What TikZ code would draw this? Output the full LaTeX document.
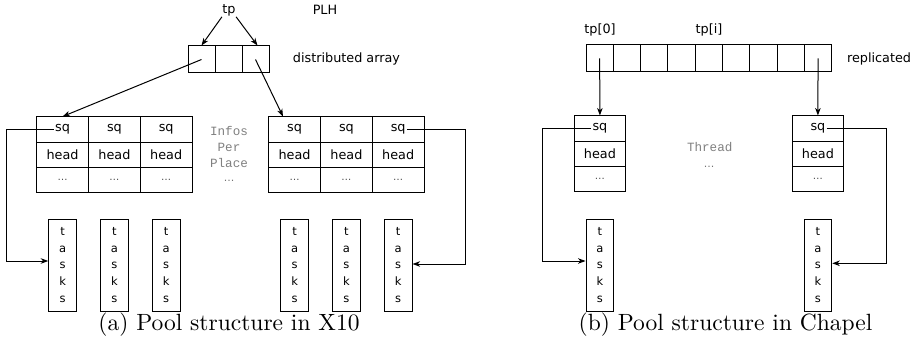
\documentclass[tikz,border=0pt]{standalone}
\usepackage{fontspec}
\newfontfamily\dvsans{DejaVu Sans}
\newfontfamily\monofam{Liberation Mono}
\newfontfamily\capfont{lmroman10-regular.otf}
\usetikzlibrary{arrows.meta}
\begin{document}
\begin{tikzpicture}[x=1pt,y=-1pt,line width=1pt,
  >={Stealth[length=7.5pt,width=5.5pt,inset=2.2pt]},
  lbl/.style={inner sep=0pt,font=\dvsans\fontsize{12.8}{15}\selectfont},
  cell/.style={draw,inner sep=0pt,minimum width=51.8pt,minimum height=25.2pt,
    font=\dvsans\fontsize{12.8}{15}\selectfont},
  dotsfill/.style={cell,font=\dvsans\fontsize{10}{12}\selectfont,text=black!70},
  txt/.style={inner sep=0.8pt,font=\dvsans\fontsize{12.8}{15}\selectfont},
  acell/.style={draw,inner sep=0pt,minimum width=27pt,minimum height=27pt},
  taskbox/.style={draw,inner sep=0pt,minimum width=27.7pt,minimum height=92pt,
    align=center,font=\dvsans\fontsize{11.5}{16.7}\selectfont},
  mono/.style={inner sep=0pt,align=center,text=black!50,
    font=\monofam\fontsize{12.6}{16.3}\selectfont},
  monodots/.style={inner sep=0pt,text=black!55,font=\dvsans\fontsize{10.5}{12}\selectfont},
  captext/.style={inner sep=0pt,font=\capfont\fontsize{23.5}{28}\selectfont}]
\useasboundingbox (0,0) rectangle (916,350);

% ---------- (a) X10 ----------
\node[lbl] (tp) at (229,10.5) {tp};
\node[lbl] (plh) at (325,10) {PLH};
\foreach \i in {1,2,3}
  \node[acell] (P\i) at ({188+(\i-0.5)*27},59.5) {};
\node[lbl] (distlbl) at (346.5,59) {distributed array};

% per-place info tables
\foreach \tb/\xo/\yo/\nc in {A/36.7/117/3, B/268.7/117/3, C/574/116/1, D/792/116/1}{
  \foreach \i in {1,...,\nc}{
    \node[cell] (\tb sq\i) at ({\xo+(\i-0.5)*51.8},{\yo+12.6}) {};
    \node[txt] (\tb t\i) at (\tb sq\i) {sq};
    \node[cell] (\tb hd\i) at ({\xo+(\i-0.5)*51.8},{\yo+37.8}) {head};
    \node[dotsfill] (\tb dt\i) at ({\xo+(\i-0.5)*51.8},{\yo+63}) {…};
  }
}

\node[mono] (infos) at (229,147) {Infos\\Per\\Place};
\node[monodots] (infodots) at (229,181) {…};

% task queues
\foreach \tb/\xo/\nc in {A/36.7/3, B/268.7/3, C/574/1, D/792/1}{
  \foreach \i in {1,...,\nc}
    \node[taskbox] (T\tb\i) at ({\xo+(\i-0.5)*51.8},265) {t\\a\\s\\k\\s};
}

\draw[->] (tp.south west) -- (P1.north);
\draw[->] (tp.south east) -- ([xshift=2pt]P3.north);
\draw[->] (P1.center) -- (Asq1.north);
\draw[->] (P3.center) -- ([xshift=-11.6pt]Bsq1.north);

\coordinate (la) at (6,0);
\coordinate (ra) at (465,0);
\draw[->] (At1.west) -- (At1.west -| la) |- ([yshift=4pt]TA1.west);
\draw[->] (Bt3.east) -- (Bt3.east -| ra) |- ([yshift=1pt]TB3.east);

\node[captext] (capa) at (229,324.5) {(a) Pool structure in X10};

% ---------- (b) Chapel ----------
\foreach \i in {1,...,9}
  \node[acell,minimum width=27.3pt,minimum height=26.7pt] (R\i) at ({586+(\i-0.5)*27.3},58.3) {};
\node[lbl] (tp0) at (600,29.5) {tp[0]};
\node[lbl] (tpi) at (709,29.5) {tp[i]};
\node[lbl] (repl) at (879,58.5) {replicated};

\node[mono] (thread) at (709.7,147) {Thread};
\node[monodots] (threaddots) at (709,167) {…};

\draw[->] (R1.center) -- (Csq1.north);
\draw[->] (R9.center) -- (Dsq1.north);

\coordinate (lc) at (542.7,0);
\coordinate (rd) at (886,0);
\draw[->] (Ct1.west) -- (Ct1.west -| lc) |- ([yshift=4pt]TC1.west);
\draw[->] (Dt1.east) -- (Dt1.east -| rd) |- ([yshift=1.7pt]TD1.east);

\node[captext] (capb) at (725.5,324.5) {(b) Pool structure in Chapel};
\end{tikzpicture}
\end{document}
